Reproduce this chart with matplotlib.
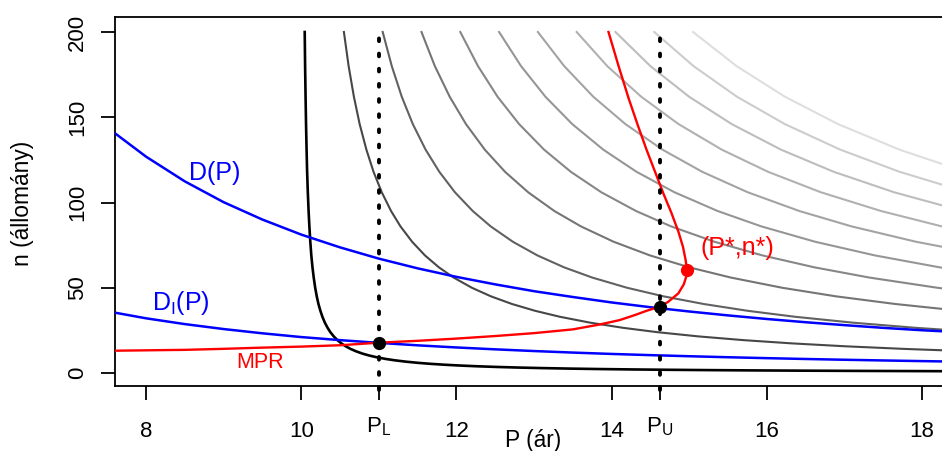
import matplotlib
matplotlib.use("Agg")
import matplotlib.pyplot as plt

plt.rcParams['font.family'] = ['Liberation Sans', 'DejaVu Sans']
plt.rcParams['mathtext.fontset'] = 'custom'
plt.rcParams['mathtext.rm'] = 'Liberation Sans'
plt.rcParams['mathtext.it'] = 'Liberation Sans:italic'

# ---- data ----
# shared n (állomány) grid for the iso-curves, and P values of each curve on it
n_grid = [200, 180, 162, 146, 131, 118, 106, 95, 86, 77, 69, 62, 56, 50, 45, 40.5,
          36.5, 33, 29.5, 26.5, 24, 21.5, 19.3, 17.4, 15.7, 14.1, 12.7, 11.4, 10.3,
          9.3, 8.3, 7.5, 6.7, 6.0, 5.4, 4.9, 4.4, 3.95, 3.55, 3.2, 2.9, 2.6, 2.35,
          2.1, 1.9, 1.7, 1.55, 1.4, 1.25, 1.1, 1.0]

curve_black = [10.045, 10.05, 10.056, 10.062, 10.069, 10.076, 10.085, 10.095, 10.105,
               10.117, 10.13, 10.145, 10.161, 10.18, 10.2, 10.222, 10.247, 10.273,
               10.305, 10.34, 10.375, 10.419, 10.466, 10.517, 10.573, 10.638, 10.709,
               10.789, 10.874, 10.968, 11.084, 11.2, 11.343, 11.5, 11.667, 11.837,
               12.045, 12.278, 12.535, 12.813, 13.103, 13.462, 13.83, 14.286, 14.737,
               15.294, 15.806, 16.429, 17.2, 18.182, 19.0]
curve_2 = [10.55, 10.611, 10.679, 10.753, 10.84, 10.932, 11.038, 11.158, 11.279, 11.429,
           11.594, 11.774, 11.964, 12.2, 12.444, 12.716, 13.014, 13.333, 13.729, 14.151,
           14.583, 15.116, 15.699, 16.322, 17.006, 17.801, 18.661]
curve_3 = [11.05, 11.167, 11.296, 11.438, 11.603, 11.78, 11.981, 12.211, 12.442, 12.727,
           13.043, 13.387, 13.75, 14.2, 14.667, 15.185, 15.753, 16.364, 17.119, 17.925,
           18.75]
curve_4 = [11.55, 11.722, 11.914, 12.123, 12.366, 12.627, 12.925, 13.263, 13.605, 14.026,
           14.493, 15.0, 15.536, 16.2, 16.889, 17.654, 18.493]
curve_5 = [12.05, 12.278, 12.531, 12.808, 13.13, 13.475, 13.868, 14.316, 14.767, 15.325,
           15.942, 16.613, 17.321, 18.2, 19.111]
curve_6 = [12.55, 12.833, 13.148, 13.493, 13.893, 14.322, 14.811, 15.368, 15.93, 16.623,
           17.391, 18.226, 19.107]
curve_7 = [13.05, 13.389, 13.765, 14.178, 14.656, 15.169, 15.755, 16.421, 17.093, 17.922,
           18.841]
curve_8 = [13.55, 13.944, 14.383, 14.863, 15.42, 16.017, 16.698, 17.474, 18.256, 19.221]
curve_9 = [14.05, 14.5, 15.0, 15.548, 16.183, 16.864, 17.642, 18.526]
curve_10 = [14.55, 15.056, 15.617, 16.233, 16.947, 17.712, 18.585]
curve_11 = [15.05, 15.611, 16.235, 16.918, 17.71, 18.559]

# demand curves on a price grid
p_grid = [7.6, 8, 8.5, 9, 9.5, 10, 10.5, 11, 11.5, 12, 12.5, 13, 13.5, 14, 14.5, 15,
          15.5, 16, 16.5, 17, 17.5, 18, 18.3]
demand_D = [140.6, 126.9, 112.4, 100.2, 90.0, 81.2, 73.7, 67.1, 61.4, 56.4, 52.0, 48.0,
            44.6, 41.4, 38.6, 36.1, 33.8, 31.7, 29.8, 28.1, 26.5, 25.1, 24.4]
demand_DI = [35.4, 32.1, 28.7, 25.8, 23.3, 21.1, 19.3, 17.7, 16.25, 15.0, 13.9, 12.9,
             12.0, 11.2, 10.5, 9.86, 9.27, 8.73, 8.24, 7.79, 7.38, 7.0, 6.79]

# MPR curve (price, n)
mpr_P = [7.6, 8.5, 9.0, 9.5, 10.0, 10.5, 11.0, 11.5, 12.0, 12.5, 13.0, 13.5, 13.85,
         14.1, 14.3, 14.45, 14.62, 14.73, 14.86, 14.93, 14.965, 14.97, 14.955, 14.92,
         14.86, 14.77, 14.67, 14.56, 14.45, 14.34, 14.22, 14.09, 13.96]
mpr_n = [13.1, 13.6, 14.2, 14.9, 15.5, 16.3, 17.8, 18.9, 20.2, 21.7, 23.4, 25.6, 28.5,
         31.0, 34.0, 36.5, 38.9, 41.8, 46.7, 52.0, 57.0, 61.0, 66.0, 74.0, 83.0, 94.0,
         105.0, 118.0, 131.0, 145.0, 161.0, 180.0, 200.0]

P_L, P_U = 11.0, 14.62
point_L = (11.0, 17.8)
point_U = (14.62, 38.9)
point_star = (14.97, 60.4)

x_ticks = [8, 10, P_L, 12, 14, P_U, 16, 18]
x_ticklabels = ['8', '10', r'P$_\mathregular{L}$', '12', '14', r'P$_\mathregular{U}$', '16', '18']
y_ticks = [0, 50, 100, 150, 200]
y_ticklabels = ['0', '50', '100', '150', '200']

gray_curves = [curve_2, curve_3, curve_4, curve_5, curve_6, curve_7, curve_8,
               curve_9, curve_10, curve_11]
gray_levels = [0.28, 0.38, 0.46, 0.53, 0.59, 0.64, 0.69, 0.74, 0.80, 0.87]

# ---- figure ----
W, H = 942, 451
fig = plt.figure(figsize=(W / 100, H / 100), dpi=100)
ax_left, ax_bottom, ax_top = 115, 386, 17
ax = fig.add_axes([ax_left / W, 1 - ax_bottom / H, (W - ax_left) / W, (ax_bottom - ax_top) / H])
ax.set_xlim(7.6, 18.258)
ax.set_ylim(-7.6, 208.8)
ax_h = ax_bottom - ax_top
ax_w = W - ax_left

for pv, g in zip(gray_curves, gray_levels):
    ax.plot(pv, n_grid[:len(pv)], color=(g, g, g), lw=1.5, zorder=2)
ax.plot(curve_black, n_grid[:len(curve_black)], color='black', lw=1.9, zorder=3)

ax.plot(p_grid, demand_D, color='#0000ff', lw=1.8, zorder=4)
ax.plot(p_grid, demand_DI, color='#0000ff', lw=1.8, zorder=4)
ax.plot(mpr_P, mpr_n, color='#ff0000', lw=1.7, zorder=5)

for xv in (P_L, P_U):
    ax.plot([xv, xv], [-10, 201.5], color='black', lw=2.8,
            linestyle=(0, (0.7, 3.2)), dash_capstyle='round', zorder=6, clip_on=False)

ax.plot(*point_L, 'o', color='black', ms=8.5, zorder=7)
ax.plot(*point_U, 'o', color='black', ms=8.5, zorder=7)
ax.plot(*point_star, 'o', color='#ff0000', ms=8.5, zorder=7)

ax.text(8.88, 117.3, 'D(P)', color='#0000ff', fontsize=18, ha='center', va='center')
ax.text(8.45, 41, r'D$_\mathregular{I}$(P)', color='#0000ff', fontsize=18, ha='center', va='center')
ax.text(9.47, 6.4, 'MPR', color='#ff0000', fontsize=15.5, ha='center', va='center')
ax.text(15.14, 73.3, '(P*,n*)', color='#ff0000', fontsize=18, ha='left', va='center')

# ticks (labels placed explicitly at the reference positions)
fs = 16
ax.set_xticks(x_ticks)
ax.set_yticks(y_ticks)
ax.tick_params(axis='both', length=10, width=1.3, direction='out',
               labelbottom=False, labelleft=False)
xt = ax.get_xaxis_transform()
for xv, lab in zip(x_ticks, x_ticklabels):
    base_px = 432.7 if 'P' in lab else 436.7
    ax.text(xv, (ax_bottom - base_px) / ax_h, lab, transform=xt, ha='center',
            va='baseline', fontsize=fs, clip_on=False)
yt = ax.get_yaxis_transform()
for yv, lab in zip(y_ticks, y_ticklabels):
    ax.text((83 - ax_left) / ax_w, yv, lab, transform=yt, rotation=90,
            rotation_mode='anchor', ha='center', va='baseline', fontsize=fs, clip_on=False)

for s in ('left', 'top', 'bottom'):
    ax.spines[s].set_linewidth(1.3)
ax.spines['right'].set_visible(False)

fig.text(23 / W, 1 - 203 / H, 'n (állomány)', rotation=90, ha='center', va='center', fontsize=16.4)
fig.text(533 / W, 1 - 447.5 / H, 'P (ár)', ha='center', va='baseline', fontsize=16.4)

fig.savefig('out.png', dpi=100)
